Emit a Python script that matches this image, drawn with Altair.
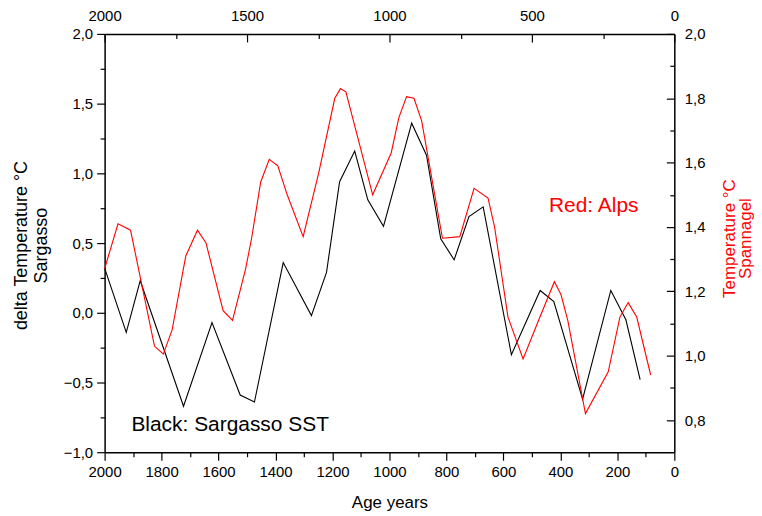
import altair as alt
import pandas as pd

# ---- data ----
black_years = [2000, 1924, 1875, 1723, 1623, 1524, 1474, 1373, 1274, 1221, 1175, 1122, 1076,
               1021, 922, 870, 820, 773, 721, 671, 572, 471, 423, 322, 223, 170, 120]
black_vals = [0.32, -0.14, 0.23, -0.67, -0.07, -0.59, -0.64, 0.36, -0.02, 0.29, 0.94, 1.16, 0.81,
              0.62, 1.36, 1.13, 0.53, 0.38, 0.69, 0.76, -0.30, 0.16, 0.08, -0.62, 0.16, -0.05, -0.48]

red_years = [2000, 1953, 1909, 1825, 1794, 1763, 1715, 1674, 1644, 1584, 1551, 1505, 1484, 1452,
             1422, 1392, 1359, 1303, 1248, 1192, 1172, 1153, 1059, 994, 967, 940, 914, 887, 814,
             753, 703, 654, 631, 584, 531, 481, 421, 398, 374, 312, 232, 191, 162, 132, 83]
red_vals = [1.27, 1.41, 1.39, 1.03, 1.005, 1.08, 1.31, 1.39, 1.35, 1.14, 1.11, 1.27, 1.365, 1.54,
            1.61, 1.59, 1.50, 1.37, 1.57, 1.80, 1.83, 1.82, 1.50, 1.63, 1.74, 1.805, 1.80, 1.73, 1.365,
            1.37, 1.52, 1.49, 1.40, 1.12, 0.99, 1.10, 1.23, 1.19, 1.11, 0.82, 0.95, 1.12, 1.165, 1.12, 0.94]

annot_text = ["Black: Sargasso SST", "Red: Alps"]
annot_age = [1906, 440]
annot_val = [-0.807, 0.764]
annot_color = ["black", "red"]

bottom_major = list(range(0, 2001, 200))
bottom_minor = list(range(100, 2000, 200))
top_major = [0, 500, 1000, 1500, 2000]
top_minor = [250, 750, 1250, 1750]
left_major = [-1.0, -0.5, 0.0, 0.5, 1.0, 1.5, 2.0]
left_minor = [-0.75, -0.25, 0.25, 0.75, 1.25, 1.75]
right_major = [0.8, 1.0, 1.2, 1.4, 1.6, 1.8, 2.0]
right_minor = [0.9, 1.1, 1.3, 1.5, 1.7, 1.9]

black_df = pd.DataFrame({"age": black_years, "val": black_vals})
red_df = pd.DataFrame({"age": red_years, "val": red_vals})
annot_df = pd.DataFrame({"label": annot_text, "age": annot_age, "val": annot_val, "color": annot_color})

FONT = "Liberation Sans"
FMT = "replace(format(datum.value, '.1f'), '.', ',')"
MAJ, MIN = 8, 4.5


def xs():
    return alt.Scale(domain=[0, 2000], reverse=True, nice=False, zero=False)


def ls():
    return alt.Scale(domain=[-1.0, 2.0], nice=False, zero=False)


def rs():
    return alt.Scale(domain=[0.7, 2.0], nice=False, zero=False)


base_axis = dict(grid=False, domainColor="black", tickColor="black", labelColor="black",
                 labelFont=FONT, titleFont=FONT, tickWidth=1.2, domainWidth=1.5,
                 labelFlush=False, labelOverlap=False, titleFontWeight="normal")


def tick_axis(orient, values, size, inward=False):
    kw = dict(base_axis)
    kw.update(orient=orient, values=values, tickSize=size, labels=False, domain=False, title=None)
    if inward:
        kw["offset"] = -size
    return alt.Axis(**kw)


# Layer A: black line + annotations, bottom & left major axes
black_line = alt.Chart(black_df).mark_line(color="black", strokeWidth=1.1).encode(
    x=alt.X("age:Q", scale=xs(), axis=alt.Axis(
        orient="bottom", values=bottom_major, tickSize=MAJ, labelPadding=4, labelFontSize=15,
        format="d", title="Age years", titleFontSize=17, titlePadding=15, **base_axis)),
    y=alt.Y("val:Q", scale=ls(), axis=alt.Axis(
        orient="left", values=left_major, tickSize=MAJ, labelPadding=4, labelFontSize=15,
        labelExpr=FMT, title=["delta Temperature °C", "Sargasso"], titleFontSize=18,
        titleAngle=270, titleX=-83, titleY=212, titleBaseline="middle", titleAlign="center",
        titleLineHeight=20, **base_axis)),
)
annots = alt.Chart(annot_df).mark_text(font=FONT, fontSize=21, align="left", baseline="middle").encode(
    x=alt.X("age:Q", scale=xs()),
    y=alt.Y("val:Q", scale=ls()),
    text="label:N",
    color=alt.Color("color:N", scale=None),
)
layer_a = alt.layer(black_line, annots)

# Layer B: bottom & left minor ticks
layer_b = alt.Chart(black_df).mark_line(opacity=0).encode(
    x=alt.X("age:Q", scale=xs(), axis=tick_axis("bottom", bottom_minor, MIN)),
    y=alt.Y("val:Q", scale=ls(), axis=tick_axis("left", left_minor, MIN)),
)

# Layer C: red line, top labels, right labels
red_line = alt.Chart(red_df).mark_line(color="red", strokeWidth=1.1).encode(
    x=alt.X("age:Q", scale=xs(), axis=alt.Axis(
        orient="top", values=top_major, ticks=False, tickSize=0, labelPadding=10,
        labelFontSize=15, format="d", title=None, **base_axis)),
    y=alt.Y("val:Q", scale=rs(), axis=alt.Axis(
        orient="right", values=right_major, ticks=False, tickSize=0, labelPadding=10,
        labelFontSize=15, labelExpr=FMT, title=["Temperature °C", "Spannagel"],
        titleColor="red", titleFontSize=17, titleAngle=270, titleX=55, titleY=205,
        titleBaseline="middle", titleAlign="center", titleLineHeight=16, **base_axis)),
)

# Layer D: top & right major inward ticks
layer_d = alt.Chart(red_df).mark_line(opacity=0).encode(
    x=alt.X("age:Q", scale=xs(), axis=tick_axis("top", top_major, MAJ, inward=True)),
    y=alt.Y("val:Q", scale=rs(), axis=tick_axis("right", right_major, MAJ, inward=True)),
)

# Layer E: top & right minor inward ticks
layer_e = alt.Chart(red_df).mark_line(opacity=0).encode(
    x=alt.X("age:Q", scale=xs(), axis=tick_axis("top", top_minor, MIN, inward=True)),
    y=alt.Y("val:Q", scale=rs(), axis=tick_axis("right", right_minor, MIN, inward=True)),
)

chart = alt.layer(layer_a, layer_b, red_line, layer_d, layer_e).resolve_scale(
    x="independent", y="independent"
).properties(
    width=572, height=420,
    autosize=alt.AutoSizeParams(type="none"),
    padding={"left": 97, "top": 25, "right": 80, "bottom": 60},
    background="white",
).configure_view(stroke=None)

chart.save("out.html", embed_options={"renderer": "svg", "actions": False})
